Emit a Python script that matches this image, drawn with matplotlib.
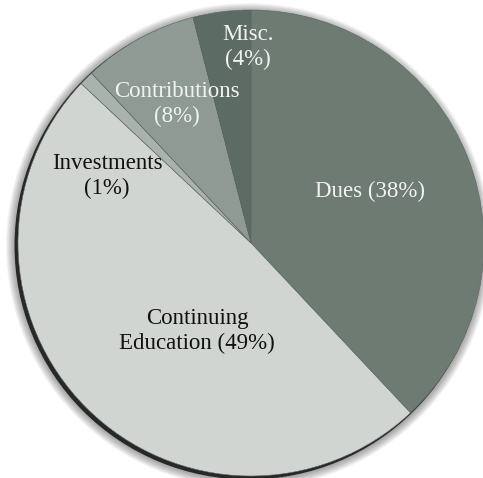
import matplotlib
matplotlib.use("Agg")
import matplotlib.pyplot as plt
from matplotlib.patches import Circle

categories = ["Dues", "Continuing Education", "Investments", "Contributions", "Misc."]
values = [38, 49, 1, 8, 4]
label_texts = ["Dues (38%)", "Continuing\nEducation (49%)", "Investments\n(1%)",
               "Contributions\n(8%)", "Misc.\n(4%)"]
colors = ["#6d7b73", "#d0d5d1", "#a9b2ac", "#8e9a93", "#5c6b64"]
text_colors = ["#f2f2f2", "#111111", "#111111", "#f2f2f2", "#f2f2f2"]
# label positions in pixels (x, y from top)
label_px = [(370, 191), (197, 331), (107, 176), (177, 104), (248, 47)]

W, H = 483, 478
cx, cy, R = 251, 243, 233

fig = plt.figure(figsize=(W / 100, H / 100), dpi=100)
ax = fig.add_axes([0, 0, 1, 1])

# soft drop shadow
for i in range(12):
    ax.add_patch(Circle((-0.010, -0.012), 1.0 + 0.0035 * (12 - i), color="black",
                        alpha=0.035, lw=0, zorder=0))
ax.add_patch(Circle((-0.011, -0.011), 1.004, color="black", alpha=0.75, lw=0, zorder=0.5))

wedges, _ = ax.pie(values, colors=colors, startangle=90, counterclock=False,
                   radius=1.0, center=(0, 0), frame=True,
                   wedgeprops=dict(edgecolor="#5a6760", linewidth=0.4))
for w in wedges:
    w.set_zorder(1)
ax.set_xlim(-cx / R, (W - cx) / R)
ax.set_ylim(-(H - cy) / R, cy / R)
ax.set_aspect("auto")
ax.axis("off")

for txt, col, (px, py) in zip(label_texts, text_colors, label_px):
    x = (px - cx) / R
    y = (cy - py) / R
    ax.text(x, y, txt, ha="center", va="center", color=col, fontsize=16.5,
            family="Liberation Serif", linespacing=1.2, zorder=3)

fig.savefig("out.png", dpi=100)
